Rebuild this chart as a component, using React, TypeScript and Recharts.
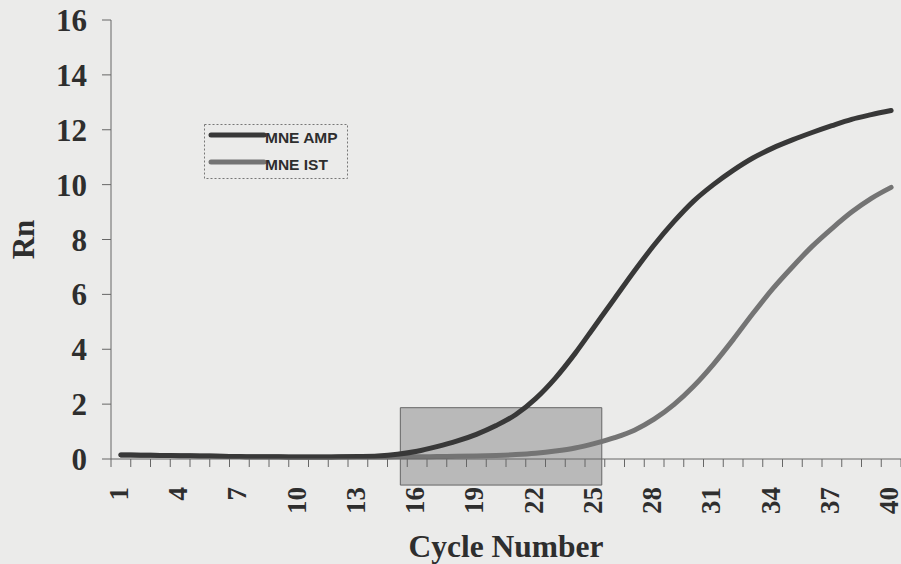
import React from 'react';
import { LineChart, Line, XAxis, YAxis, ReferenceArea, Legend } from 'recharts';

const cycles = [1, 2, 3, 4, 5, 6, 7, 8, 9, 10, 11, 12, 13, 14, 15, 16, 17, 18, 19, 20, 21, 22, 23, 24, 25, 26, 27, 28, 29, 30, 31, 32, 33, 34, 35, 36, 37, 38, 39, 40];
const mneAmp = [0.15, 0.14, 0.13, 0.12, 0.11, 0.1, 0.09, 0.08, 0.08, 0.07, 0.07, 0.08, 0.09, 0.11, 0.17, 0.28, 0.45, 0.65, 0.9, 1.22, 1.62, 2.2, 2.95, 3.85, 4.85, 5.85, 6.85, 7.8, 8.65, 9.4, 10.0, 10.52, 10.97, 11.33, 11.63, 11.9, 12.15, 12.38, 12.55, 12.7];
const mneIst = [0.15, 0.14, 0.13, 0.12, 0.11, 0.1, 0.09, 0.08, 0.08, 0.07, 0.07, 0.07, 0.07, 0.07, 0.08, 0.08, 0.09, 0.1, 0.11, 0.13, 0.16, 0.21, 0.29, 0.4, 0.57, 0.78, 1.05, 1.45, 1.98, 2.65, 3.45, 4.35, 5.3, 6.2, 7.0, 7.75, 8.4, 9.0, 9.5, 9.9];
const xTickLabels = [1, 4, 7, 10, 13, 16, 19, 22, 25, 28, 31, 34, 37, 40];
const yTicks = [0, 2, 4, 6, 8, 10, 12, 14, 16];
const seriesNames = ['MNE AMP', 'MNE IST'];
const highlightCycles = [15.15, 25.35];
const highlightRn = [-0.95, 1.87];

const data = cycles.map((c, i) => ({ cycle: c, amp: mneAmp[i], ist: mneIst[i] }));
const minorTicks = [cycles[0] - 0.5, ...cycles.map((c) => c + 0.5)];

const AMP_COLOR = '#383838';
const IST_COLOR = '#747474';
const TEXT = '#2e2e2e';
const AXIS = '#666';
const SERIF = '"Liberation Serif", "Times New Roman", serif';
const SANS = '"Liberation Sans", Arial, sans-serif';

const XTick = (props: any) => {
  const { x, y, payload } = props;
  return (
    <text
      x={x}
      y={y}
      transform={`rotate(-90 ${x} ${y})`}
      textAnchor="end"
      dy="0.26em"
      fontFamily={SERIF}
      fontWeight="bold"
      fontSize={27}
      fill={TEXT}
    >
      {payload.value}
    </text>
  );
};

const EmptyTick = () => <g />;

const LegendBox = () => (
  <svg width={145} height={56} style={{ display: 'block' }}>
    <rect x={0.5} y={0.5} width={143} height={54} fill="none" stroke="#777" strokeDasharray="2 2" strokeWidth={1} />
    <line x1={7} y1={11} x2={60} y2={11} stroke={AMP_COLOR} strokeWidth={5} strokeLinecap="round" />
    <text x={61} y={19} fontFamily={SANS} fontWeight="bold" fontSize={15.5} fill={TEXT}>
      {seriesNames[0]}
    </text>
    <line x1={7} y1={38} x2={60} y2={38} stroke={IST_COLOR} strokeWidth={5} strokeLinecap="round" />
    <text x={61} y={46} fontFamily={SANS} fontWeight="bold" fontSize={15.5} fill={TEXT}>
      {seriesNames[1]}
    </text>
  </svg>
);

export default function App() {
  return (
    <div style={{ position: 'absolute', left: 0, top: 0, width: 901, height: 564, background: '#ebebea', overflow: 'hidden' }}>
      <LineChart width={901} height={564} data={data} margin={{ top: 20, right: 0, left: 0, bottom: 0 }}>
        <XAxis
          xAxisId="a0"
          type="number"
          dataKey="cycle"
          domain={[0.5, 40.5]}
          ticks={minorTicks}
          interval={0}
          tick={<EmptyTick />}
          tickSize={8}
          axisLine={{ stroke: AXIS }}
          tickLine={{ stroke: AXIS }}
          height={1}
          allowDataOverflow
        />
        <XAxis
          xAxisId="a1"
          type="number"
          dataKey="cycle"
          domain={[0.5, 40.5]}
          ticks={xTickLabels}
          interval={0}
          tick={<XTick />}
          tickLine={false}
          tickSize={8}
          tickMargin={19}
          axisLine={false}
          height={104}
          allowDataOverflow
          label={{
            content: (p: any) => {
              const vb = p.viewBox;
              return (
                <text x={vb.x + vb.width / 2} y={557} textAnchor="middle" fontFamily={SERIF} fontWeight="bold" fontSize={31.5} fill={TEXT}>
                  Cycle Number
                </text>
              );
            },
          }}
        />
        <YAxis
          type="number"
          domain={[0, 16]}
          ticks={yTicks}
          interval={0}
          width={111}
          tickSize={9}
          tickMargin={15}
          axisLine={{ stroke: AXIS }}
          tickLine={{ stroke: AXIS }}
          tick={{ fontFamily: SERIF, fontWeight: 'bold', fontSize: 31, fill: TEXT }}
          label={{
            content: (p: any) => {
              const vb = p.viewBox;
              const cx = 23;
              const cy = vb.y + vb.height / 2;
              return (
                <text x={cx} y={cy} transform={`rotate(-90 ${cx} ${cy})`} textAnchor="middle" dy="0.35em" fontFamily={SERIF} fontWeight="bold" fontSize={31} fill={TEXT}>
                  Rn
                </text>
              );
            },
          }}
        />
        <Line xAxisId="a1" type="monotone" dataKey="ist" name={seriesNames[1]} stroke={IST_COLOR} strokeWidth={5} dot={false} strokeLinecap="round" isAnimationActive={false} />
        <Line xAxisId="a1" type="monotone" dataKey="amp" name={seriesNames[0]} stroke={AMP_COLOR} strokeWidth={5} dot={false} strokeLinecap="round" isAnimationActive={false} />
        <ReferenceArea
          xAxisId="a1"
          x1={highlightCycles[0]}
          x2={highlightCycles[1]}
          y1={highlightRn[0]}
          y2={highlightRn[1]}
          ifOverflow="visible"
          fill="#888888"
          fillOpacity={0.5}
          stroke="#666666"
          strokeWidth={1}
        />
        <Legend
          layout="horizontal"
          verticalAlign="middle"
          align="center"
          content={<LegendBox />}
          wrapperStyle={{ position: 'absolute', left: 204, top: 124, width: 145, height: 56 }}
        />
      </LineChart>
    </div>
  );
}
